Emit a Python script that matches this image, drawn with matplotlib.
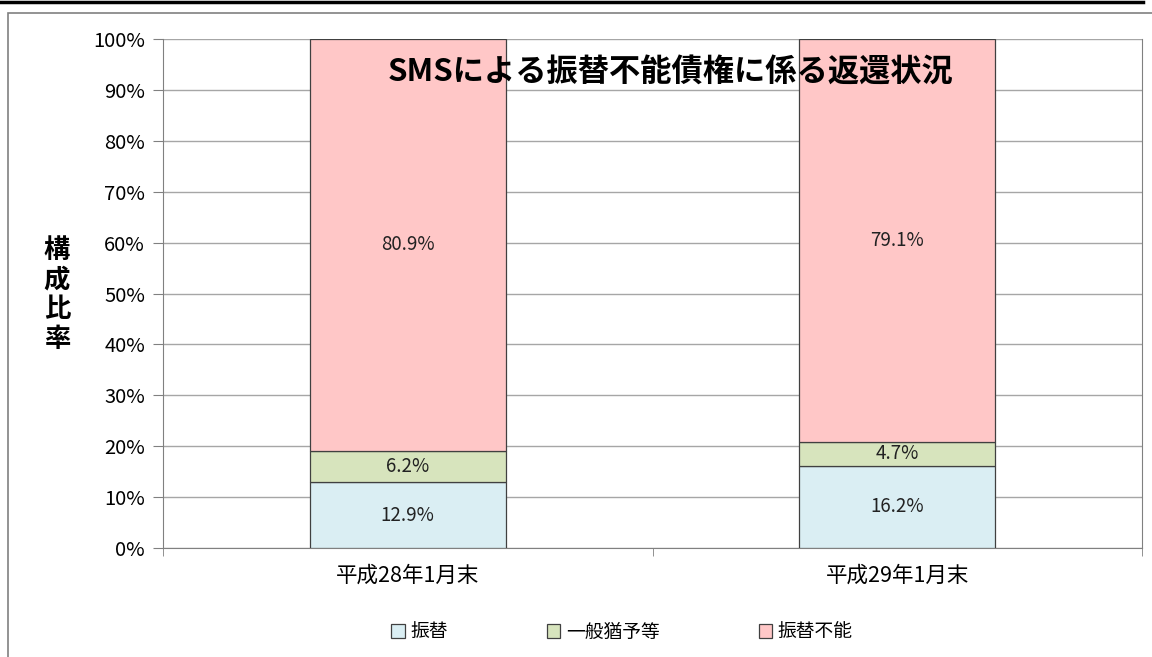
import matplotlib.pyplot as plt
from matplotlib.lines import Line2D
from matplotlib.patches import Rectangle

plt.rcParams['font.family'] = ['Noto Sans CJK JP', 'DejaVu Sans']

categories = ['平成28年1月末', '平成29年1月末']
series_names = ['振替', '一般猶予等', '振替不能']
furikae = [12.9, 16.2]
yuyo = [6.2, 4.7]
funo = [80.9, 79.1]
colors = ['#DAEEF3', '#D7E4BD', '#FFC7C7']

fig = plt.figure(figsize=(11.52, 6.57), dpi=100)
ax = fig.add_axes([163 / 1152, 1 - 548 / 657, 979 / 1152, 509 / 657])

x = range(len(categories))
bottom = [0, 0]
for vals, name, c in zip([furikae, yuyo, funo], series_names, colors):
    bars = ax.bar(x, vals, width=0.4, bottom=bottom, color=c, edgecolor='#404040',
                  linewidth=0.9, label=name, zorder=3)
    for b, v, b0 in zip(bars, vals, bottom):
        ax.text(b.get_x() + b.get_width() / 2, b0 + v / 2, f'{v:.1f}%',
                ha='center', va='center', fontsize=13.5, color='#222222', zorder=4)
    bottom = [a + v for a, v in zip(bottom, vals)]

ax.set_xlim(-0.5, 1.5)
ax.set_ylim(0, 100)
ax.set_yticks(range(0, 101, 10))
ax.set_yticklabels([f'{v}%' for v in range(0, 101, 10)], fontsize=14.5)
ax.set_xticks(list(x))
ax.set_xticklabels(categories, fontsize=15.5)
ax.tick_params(axis='x', length=0, pad=12)
ax.set_xticks([-0.5, 0.5, 1.5], minor=True)
ax.tick_params(axis='x', which='minor', length=6, color='#808080')
ax.tick_params(axis='y', length=7, color='#808080', pad=6)
ax.grid(axis='y', color='#A6A6A6', linewidth=1, zorder=0)
for s in ax.spines.values():
    s.set_color('#808080')
ax.spines['top'].set_visible(False)

fig.text(671 / 1152, 1 - 72 / 657, 'SMSによる振替不能債権に係る返還状況',
         ha='center', va='center', fontsize=22.5, fontweight='bold', zorder=5)

fig.text(57 / 1152, 1 - 295 / 657, '構\n成\n比\n率', ha='center', va='center',
         fontsize=19, fontweight='bold', linespacing=1.12)

handles = [Rectangle((0, 0), 1, 1, facecolor=c, edgecolor='#404040', linewidth=0.9)
           for c in colors]
fig.legend(handles, series_names, loc='center', bbox_to_anchor=(0.54, 1 - 632 / 657),
           ncol=3, frameon=False, fontsize=13.5, handlelength=0.7, handleheight=0.7,
           handletextpad=0.3, columnspacing=5.3)

# chart frame and the table edge above it
fig.add_artist(Rectangle((8 / 1152, -0.1), 1.2, 1 - 13 / 657 + 0.1, transform=fig.transFigure,
                         fill=False, edgecolor='#808080', linewidth=1.2))
fig.add_artist(Line2D([0, 1143 / 1152], [1 - 1.5 / 657] * 2, transform=fig.transFigure,
                      color='black', linewidth=2.5))

fig.savefig('out.png', dpi=100)
